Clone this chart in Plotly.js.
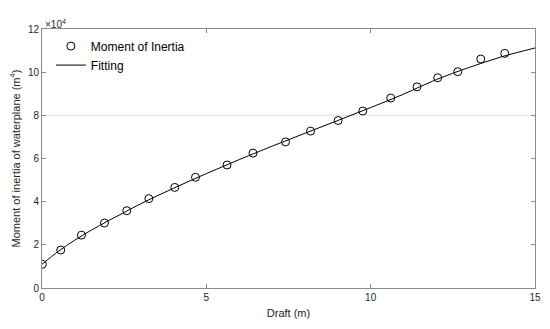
<!DOCTYPE html>
<html>
<head>
<meta charset="utf-8">
<script src="https://cdn.plot.ly/plotly-3.0.1.min.js"></script>
<style>html,body{margin:0;padding:0;background:#fff;}#chart{width:550px;height:329px;}</style>
</head>
<body>
<div id="chart"></div>
<script>
// Measured points: draft (m) and moment of inertia of waterplane (m^4)
const draft = [0.01, 0.57, 1.20, 1.90, 2.58, 3.25, 4.04, 4.67, 5.63, 6.42, 7.41, 8.17, 9.01, 9.76, 10.61, 11.41, 12.04, 12.65, 13.35, 14.08];
const inertia = [11000, 17600, 24500, 30100, 35800, 41400, 46600, 51300, 57000, 62500, 67700, 72700, 77600, 82000, 88000, 93200, 97400, 100200, 106100, 108700];

// Fitting curve
const fitDraft = [0, 0.5, 1, 1.5, 2, 2.5, 3, 4, 5, 6, 7, 8, 9, 10, 11, 12, 13, 14, 15];
const fitInertia = [11000, 17000, 22200, 26800, 31000, 35000, 39000, 46200, 53000, 59500, 65700, 71700, 77600, 83600, 89800, 96600, 102200, 107200, 111200];

const xTicks = [0, 5, 10, 15];
const yTickVals = [0, 20000, 40000, 60000, 80000, 100000, 120000];
const yTickText = ['0', '2', '4', '6', '8', '10', '12'];

const axisColor = '#8a8a8a';
const textColor = '#262626';
const font = 'Liberation Sans, Arial, sans-serif';

const traces = [
  {
    x: draft, y: inertia, type: 'scatter', mode: 'markers', name: 'Moment of Inertia',
    marker: {symbol: 'circle-open', size: 8, color: '#000', line: {width: 1, color: '#000'}}
  },
  {
    x: fitDraft, y: fitInertia, type: 'scatter', mode: 'lines', name: 'Fitting',
    line: {color: '#000', width: 1, shape: 'spline'}
  }
];

const layout = {
  width: 550, height: 329,
  margin: {l: 42, r: 15, t: 29, b: 41},
  paper_bgcolor: '#fff', plot_bgcolor: '#fff',
  font: {family: font, color: textColor, size: 10},
  showlegend: true,
  legend: {
    x: 0.018, y: 0.99, xanchor: 'left', yanchor: 'top',
    bgcolor: 'rgba(0,0,0,0)', borderwidth: 0,
    font: {family: font, size: 12, color: '#000'},
    tracegroupgap: 0
  },
  xaxis: {
    range: [0, 15], tickvals: xTicks, ticktext: xTicks.map(String),
    ticks: 'inside', ticklen: 4, tickcolor: axisColor, tickwidth: 1,
    showline: true, linecolor: axisColor, linewidth: 1, mirror: 'ticks',
    showgrid: false, zeroline: false,
    tickfont: {size: 10, color: textColor, family: font},
    title: {text: 'Draft (m)', font: {size: 11, color: textColor, family: font}, standoff: 7}
  },
  yaxis: {
    range: [0, 120000], tickvals: yTickVals, ticktext: yTickText,
    ticks: 'inside', ticklen: 4, tickcolor: axisColor, tickwidth: 1,
    showline: true, linecolor: axisColor, linewidth: 1, mirror: 'ticks',
    showgrid: false, zeroline: false,
    tickfont: {size: 10, color: textColor, family: font},
    title: {text: 'Moment of inertia of waterplane (m<sup>4</sup>)', font: {size: 11, color: textColor, family: font}, standoff: 5}
  },
  shapes: [
    {type: 'line', xref: 'paper', yref: 'y', x0: 0, x1: 1, y0: 80000, y1: 80000,
     line: {color: '#e3e3e3', width: 1}, layer: 'below'}
  ],
  annotations: [
    {text: '×10<sup>4</sup>', xref: 'paper', yref: 'paper', x: 0, y: 1, xanchor: 'left', yanchor: 'bottom',
     showarrow: false, font: {size: 10, color: textColor, family: font}, yshift: -3, xshift: 1}
  ]
};

Plotly.newPlot('chart', traces, layout, {displayModeBar: false, staticPlot: true});
</script>
</body>
</html>
